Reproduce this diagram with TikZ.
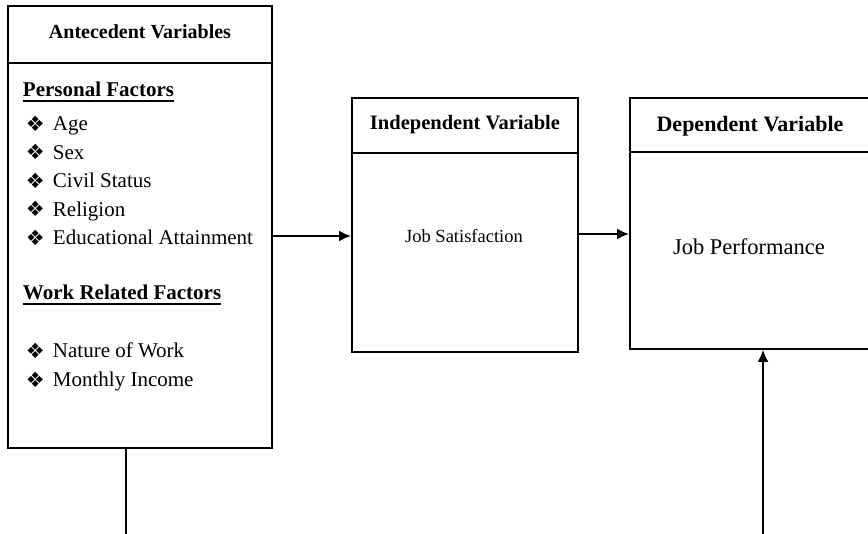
\documentclass[tikz,border=0pt]{standalone}
\usepackage{fontspec}
\setmainfont{Liberation Serif}
\newfontfamily\symfont{DejaVu Sans}
\usetikzlibrary{arrows.meta}
\newcommand{\ulin}[1]{\setbox0\hbox{#1}\rlap{\rule[-5pt]{\wd0}{1.8pt}}\box0}
\newcommand{\bul}{\makebox[27pt][l]{\raisebox{-0.5pt}{\symfont\fontsize{21}{24}\selectfont ❖}}}
\begin{document}
\begin{tikzpicture}[x=1pt,y=-1pt,line width=1.9pt,
  box/.style={draw,line width=1.9pt,rectangle,inner sep=0pt,anchor=north west},
  txt/.style={inner sep=0pt,anchor=base},
  item/.style={inner sep=0pt,anchor=base west,font=\fontsize{21}{24}\selectfont},
  arr/.style={-{Latex[length=12pt,width=11pt]},line width=1.9pt}]
\useasboundingbox (0,0) rectangle (868,534);
% boxes
\node[box,minimum width=264pt,minimum height=442pt] (ante) at (7,5) {};
\node[box,minimum width=226pt,minimum height=254pt] (indep) at (351,97) {};
\node[box,minimum width=241pt,minimum height=251pt] (dep) at (629,97) {};
% header separators
\draw ([yshift=-58pt]ante.north west) -- ([yshift=-58pt]ante.north east);
\draw ([yshift=-56pt]indep.north west) -- ([yshift=-56pt]indep.north east);
\draw ([yshift=-55pt]dep.north west) -- ([yshift=-55pt]dep.north east);
% headers
\node[txt,font=\fontsize{20}{24}\selectfont\bfseries] (anteh) at (140,39) {Antecedent Variables};
\node[txt,font=\fontsize{20.5}{24}\selectfont\bfseries] (indeph) at (465,130) {Independent Variable};
\node[txt,font=\fontsize{22}{26}\selectfont\bfseries] (deph) at (750,132) {Dependent Variable};
% left box content
\node[item,font=\fontsize{21}{24}\selectfont\bfseries] (pf) at (22,97) {\ulin{Personal Factors}};
\node[item] (i1) at (25,131) {\bul Age};
\node[item] (i2) at (25,159.5) {\bul Sex};
\node[item] (i3) at (25,188) {\bul Civil Status};
\node[item] (i4) at (25,216.5) {\bul Religion};
\node[item] (i5) at (25,245) {\bul Educational Attainment};
\node[item,font=\fontsize{21}{24}\selectfont\bfseries] (wf) at (22,300) {\ulin{Work Related Factors}};
\node[item] (i6) at (25,358) {\bul Nature of Work};
\node[item] (i7) at (25,387) {\bul Monthly Income};
% middle and right content
\node[txt,font=\fontsize{18.5}{22}\selectfont] (js) at (464,243) {Job Satisfaction};
\node[txt,font=\fontsize{22.5}{26}\selectfont] (jp) at (749,255) {Job Performance};
% connectors
\coordinate (a1) at (0,236);
\coordinate (a2) at (0,234);
\coordinate (b1) at (126,534);
\coordinate (b2) at (763,534);
\draw[arr] (ante.east |- a1) -- (indep.west |- a1);
\draw[arr] (indep.east |- a2) -- (dep.west |- a2);
\draw (b1 |- ante.south) -- (b1);
\draw[arr] (b2) -- (b2 |- dep.south);
\end{tikzpicture}
\end{document}
